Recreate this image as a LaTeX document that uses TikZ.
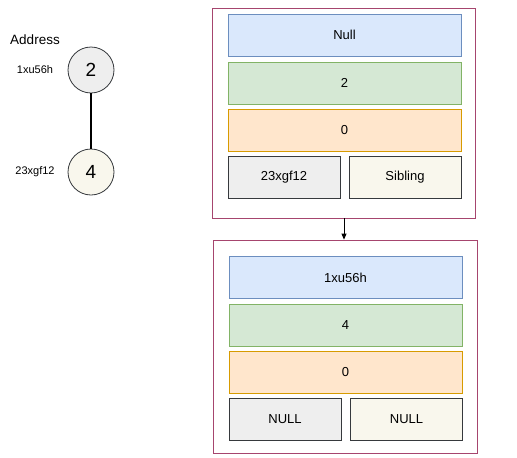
\documentclass[tikz,border=0pt]{standalone}
\usepackage{fontspec}
\setmainfont{Liberation Sans}
\definecolor{BlueFill}{HTML}{DAE8FC}
\definecolor{BlueLine}{HTML}{6C8EBF}
\definecolor{GreenFill}{HTML}{D5E8D4}
\definecolor{GreenLine}{HTML}{82B366}
\definecolor{OrangeFill}{HTML}{FFE6CC}
\definecolor{OrangeLine}{HTML}{D79B00}
\definecolor{GrayFill}{HTML}{EEEEEE}
\definecolor{CreamFill}{HTML}{F9F7ED}
\definecolor{DarkLine}{HTML}{36393D}
\definecolor{Frame}{HTML}{A6456E}
\usetikzlibrary{arrows.meta}

\begin{document}
\begin{tikzpicture}
    [x=1pt, y=-1pt,
    every node/.style={font=\fontsize{13}{15}\selectfont, inner sep=0pt},
    frame/.style={draw=Frame, line width=0.8pt, fill=white},
    field/.style={draw, line width=0.8pt, minimum width=233pt, minimum height=42pt},
    halffield/.style={draw=DarkLine, line width=0.8pt, minimum width=112pt, minimum height=42pt},
    vertex/.style={circle, draw=DarkLine, line width=0.8pt, minimum size=46pt, font=\fontsize{19}{21}\selectfont},
    addr/.style={font=\fontsize{11}{13}\selectfont}]

    \useasboundingbox (0,0) rectangle (517,458);

    % tree on the left
    \node at (35,40) [font=\fontsize{13.5}{15}\selectfont] (addrhead) {Address};
    \node [vertex, fill=GrayFill] at (91,70) (two) {2};
    \node [vertex, fill=CreamFill] at (91,172) (four) {4};
    \node [addr] at (35,70) (addrtwo) {1xu56h};
    \node [addr] at (35,172) (addrfour) {23xgf12};
    \draw [line width=2.6pt] (two) -- (four);

    % record of node 2
    \node [frame, minimum width=263pt, minimum height=210pt] at (344,113) (recone) {};
    \node [field, draw=BlueLine, fill=BlueFill] at (344.5,35) (oneparent) {Null};
    \node [field, draw=GreenLine, fill=GreenFill] at (344.5,83) (onekey) {2};
    \node [field, draw=OrangeLine, fill=OrangeFill] at (344.5,130.5) (onedeg) {0};
    \node [halffield, fill=GrayFill] at (284,177) (onechild) {23xgf12};
    \node [halffield, fill=CreamFill] at (405,177) (onesib) {Sibling};

    % record of node 4
    \node [frame, minimum width=264pt, minimum height=213pt] at (345,346.5) (rectwo) {};
    \node [field, draw=BlueLine, fill=BlueFill] at (345.5,277.5) (twoparent) {1xu56h};
    \node [field, draw=GreenLine, fill=GreenFill] at (345.5,325.5) (twokey) {4};
    \node [field, draw=OrangeLine, fill=OrangeFill] at (345.5,372) (twodeg) {0};
    \node [halffield, fill=GrayFill] at (285,419) (twochild) {NULL};
    \node [halffield, fill=CreamFill] at (406.5,419) (twosib) {NULL};

    \draw [-{Triangle[length=6pt, width=5pt]}, line width=0.8pt] (recone.south) -- (recone.south |- rectwo.north);
\end{tikzpicture}
\end{document}
